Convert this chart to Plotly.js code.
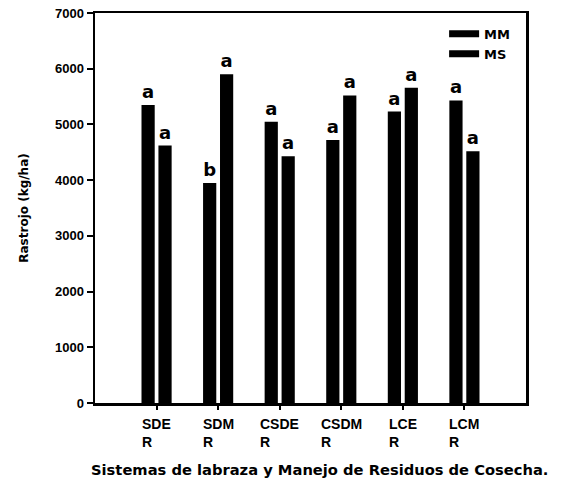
<!DOCTYPE html>
<html><head><meta charset="utf-8">
<script src="https://cdn.plot.ly/plotly-3.0.1.min.js"></script>
<style>html,body{margin:0;padding:0;background:#fff}#chart{width:568px;height:485px}</style>
</head><body><div id="chart"></div>
<script>
const categories = ["SDER", "SDMR", "CSDER", "CSDMR", "LCER", "LCMR"];
const tickLabels = ["SDE<br>R", "SDM<br>R", "CSDE<br>R", "CSDM<br>R", "LCE<br>R", "LCM<br>R"];
const mmValues = [5350, 3950, 5050, 4720, 5230, 5430];
const msValues = [4620, 5900, 4430, 5520, 5660, 4520];
const mmLetters = ["a", "b", "a", "a", "a", "a"];
const msLetters = ["a", "a", "a", "a", "a", "a"];
const seriesNames = ["MM", "MS"];
const yTicks = [0, 1000, 2000, 3000, 4000, 5000, 6000, 7000];

const FONT = "Liberation Sans, Arial, sans-serif";
const WIDE = "DejaVu Sans, sans-serif";
const barCommon = {
  type: "bar", x: categories, marker: {color: "#000", line: {width: 0}},
  textposition: "outside", cliponaxis: false, showlegend: false,
  textfont: {family: WIDE, size: 18, color: "#000", weight: "bold"}
};
const traces = [
  Object.assign({}, barCommon, {name: seriesNames[0], y: mmValues, text: mmLetters}),
  Object.assign({}, barCommon, {name: seriesNames[1], y: msValues, text: msLetters}),
  {type: "scatter", mode: "lines", x: [null], y: [null], name: seriesNames[0], line: {color: "#000", width: 7}},
  {type: "scatter", mode: "lines", x: [null], y: [null], name: seriesNames[1], line: {color: "#000", width: 7}}
];

const annotations = categories.map((c, i) => ({
  x: c, xref: "x", y: 0, yref: "paper", yanchor: "top", yshift: -11,
  xanchor: "center", align: "left", showarrow: false, text: tickLabels[i],
  font: {family: FONT, size: 14, color: "#000", weight: "bold"}
}));
annotations.push({
  x: 0.52, xref: "paper", y: 0, yref: "paper", yanchor: "middle", yshift: -66,
  showarrow: false, text: "Sistemas de labraza y Manejo de Residuos de Cosecha.",
  font: {family: WIDE, size: 14.7, color: "#000", weight: "bold"}
});

const layout = {
  width: 568, height: 485,
  margin: {l: 95, r: 42, t: 13, b: 82},
  paper_bgcolor: "#fff", plot_bgcolor: "#fff",
  barmode: "group", bargap: 0.45, bargroupgap: 0.22,
  font: {family: FONT, color: "#000"},
  xaxis: {
    type: "category", range: [-1, 6], showticklabels: false,
    ticks: "outside", ticklen: 4, tickwidth: 2, tickcolor: "#000",
    showline: true, linewidth: 2.5, linecolor: "#000", mirror: true,
    showgrid: false, zeroline: false, fixedrange: true
  },
  yaxis: {
    range: [0, 7000], tickvals: yTicks, ticktext: yTicks.map(String),
    ticks: "outside", ticklen: 6, tickwidth: 2, tickcolor: "#000",
    tickfont: {family: FONT, size: 13, color: "#000", weight: "bold"},
    showline: true, linewidth: 2.5, linecolor: "#000", mirror: true,
    showgrid: false, zeroline: false,
    title: {text: "Rastrojo (kg/ha)", standoff: 24, font: {family: WIDE, size: 12, color: "#000", weight: "bold"}}
  },
  legend: {
    x: 0.81, xanchor: "left", y: 0.985, yanchor: "top",
    bgcolor: "rgba(0,0,0,0)", borderwidth: 0, tracegroupgap: 0,
    font: {family: WIDE, size: 13, color: "#000", weight: "bold"}
  },
  annotations: annotations,
  showlegend: true
};
Plotly.newPlot("chart", traces, layout, {displayModeBar: false, staticPlot: true});
</script></body></html>
